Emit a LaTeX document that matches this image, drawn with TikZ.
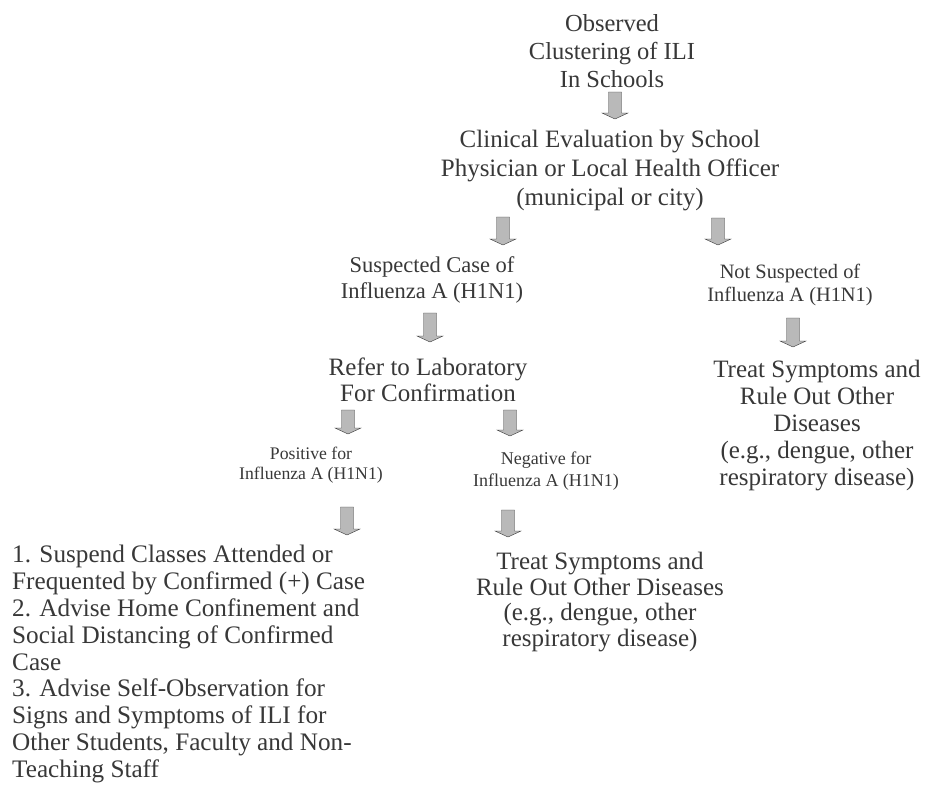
\documentclass[tikz,border=0pt]{standalone}
\usepackage{fontspec}
\setmainfont{Liberation Serif}
\usetikzlibrary{calc}
\definecolor{ink}{gray}{0.22}
\tikzset{
  txt/.style={inner sep=0pt, align=center, text=ink},
  blk/.style={fill=gray!55, draw=gray!45!black, line width=0.4pt,
    to path={let \p1=(\tikztostart), \p2=(\tikztotarget) in
      (\x1-6.5pt,\y1) -- (\x1+6.5pt,\y1) -- (\x1+6.5pt,\y2+6pt)
      -- (\x1+13pt,\y2+6pt) -- (\x1,\y2) -- (\x1-13pt,\y2+6pt)
      -- (\x1-6.5pt,\y2+6pt) -- cycle}}
}
\begin{document}
\begin{tikzpicture}[x=1pt,y=-1pt]
\useasboundingbox[fill=white] (0,0) rectangle (927,787);

\node[txt, font=\fontsize{24.5}{28}\selectfont] (obs) at (612,51)
  {Observed\\Clustering of ILI\\In Schools};
\node[txt, font=\fontsize{25}{29}\selectfont] (clin) at (610,171)
  {Clinical Evaluation by School\\Physician or Local Health Officer\\(municipal or city)};
\node[txt, font=\fontsize{22.5}{26}\selectfont] (susp) at (432,280)
  {Suspected Case of\\Influenza A (H1N1)};
\node[txt, font=\fontsize{20.4}{23.5}\selectfont] (nsusp) at (790,285)
  {Not Suspected of\\Influenza A (H1N1)};
\node[txt, font=\fontsize{25}{26}\selectfont] (lab) at (428,380)
  {Refer to Laboratory\\For Confirmation};
\node[txt, font=\fontsize{25}{27}\selectfont] (treatR) at (817,426)
  {Treat Symptoms and\\Rule Out Other\\Diseases\\(e.g., dengue, other\\respiratory disease)};
\node[txt, font=\fontsize{17.7}{20.5}\selectfont] (pos) at (311,465)
  {Positive for\\Influenza A (H1N1)};
\node[txt, font=\fontsize{18}{22}\selectfont] (neg) at (546,471)
  {Negative for\\Influenza A (H1N1)};
\node[txt, align=left, anchor=west, font=\fontsize{25.2}{26.8}\selectfont] (list) at (12,664)
  {1. Suspend Classes Attended or\\Frequented by Confirmed (+) Case\\2. Advise Home Confinement and\\Social Distancing of Confirmed\\Case\\3. Advise Self-Observation for\\Signs and Symptoms of ILI for\\Other Students, Faculty and Non-\\Teaching Staff};
\node[txt, font=\fontsize{25}{25.7}\selectfont] (treatB) at (600,602)
  {Treat Symptoms and\\Rule Out Other Diseases\\(e.g., dengue, other\\respiratory disease)};

% arrow end points
\coordinate (a1s) at (615,92);  \coordinate (a1e) at (615,119);
\coordinate (a2s) at (503,217); \coordinate (a2e) at (503,245);
\coordinate (a3s) at (718,218); \coordinate (a3e) at (718,245);
\coordinate (a4s) at (430,313); \coordinate (a4e) at (430,342);
\coordinate (a5s) at (793,318); \coordinate (a5e) at (793,347);
\coordinate (a6s) at (348,410); \coordinate (a6e) at (348,434);
\coordinate (a7s) at (510,410); \coordinate (a7e) at (510,436);
\coordinate (a8s) at (347,507); \coordinate (a8e) at (347,535);
\coordinate (a9s) at (508,510); \coordinate (a9e) at (508,537);

\path[blk] (a1s) to (a1e);
\path[blk] (a2s) to (a2e);
\path[blk] (a3s) to (a3e);
\path[blk] (a4s) to (a4e);
\path[blk] (a5s) to (a5e);
\path[blk] (a6s) to (a6e);
\path[blk] (a7s) to (a7e);
\path[blk] (a8s) to (a8e);
\path[blk] (a9s) to (a9e);
\end{tikzpicture}
\end{document}
